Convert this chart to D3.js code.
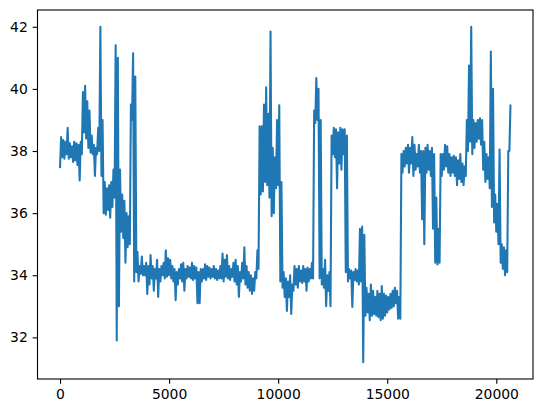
<!DOCTYPE html>
<html>
<head>
<meta charset="utf-8">
<script src="https://cdn.jsdelivr.net/npm/d3@7"></script>
<style>
  body { margin: 0; background: #fff; }
  .tick text { font-family: "DejaVu Sans", sans-serif; font-size: 13.9px; fill: #000; }
  .tick line { stroke: #000; stroke-width: 1.1px; }
  .series { fill: none; stroke: #1f77b4; stroke-width: 2.08px; stroke-linejoin: round; }
  .frame { fill: none; stroke: #000; stroke-width: 1.1px; }
</style>
</head>
<body>
<div class="content"></div>
<script>
var svgWidth = 543;  // The width of the SVG element.
var svgHeight = 413;  // The height of the SVG element.

// Each bin covers binSize samples; lowValues / highValues are the min and max.
var binSize = 100;
var lowValues = [
  37.45, 37.8, 37.75, 37.9, 37.75, 37.8, 37.65, 37.7, 37.55, 37.05,
  37.9, 38.6, 38.4, 38.1, 37.95, 37.9, 37.2, 37.9, 38.0, 37.2,
  36.0, 35.95, 36.1, 35.85, 36.2, 36.5, 31.9, 33.0, 35.4, 35.2,
  34.4, 34.9, 35.0, 39.0, 33.8, 34.1, 33.8, 34.05, 34.0, 34.0,
  33.4, 33.7, 33.9, 33.5, 33.9, 33.3, 33.8, 34.0, 33.9, 33.95,
  34.0, 33.9, 33.8, 33.2, 33.7, 33.9, 33.8, 33.5, 33.9, 33.95,
  33.9, 33.85, 33.9, 33.1, 33.1, 33.8, 33.9, 33.85, 33.95, 33.9,
  33.95, 33.9, 33.85, 33.9, 33.9, 33.8, 33.95, 33.9, 33.85, 33.95,
  33.8, 33.7, 33.3, 33.8, 33.9, 33.7, 33.6, 33.5, 33.4, 33.5,
  33.9, 34.2, 36.6, 36.7, 37.0, 36.9, 36.5, 35.9, 36.0, 36.8,
  36.9, 33.8, 33.6, 33.3, 32.85, 33.3, 32.75, 33.5, 33.7, 33.6,
  33.8, 33.75, 33.8, 33.5, 33.8, 33.9, 33.9, 38.9, 39.0, 33.9,
  33.7, 33.6, 33.0, 33.5, 33.0, 37.9, 37.8, 36.8, 37.6, 37.4,
  37.9, 34.1, 33.8, 33.9, 32.98, 33.85, 33.8, 33.7, 33.8, 31.2,
  32.7, 32.8, 32.55, 32.7, 32.75, 32.7, 32.65, 32.55, 32.6, 32.7,
  32.8, 32.9, 32.95, 33.0, 33.1, 32.6, 32.6, 37.3, 37.5, 37.6,
  37.3, 37.6, 37.2, 37.4, 37.5, 37.3, 35.8, 35.0, 37.3, 37.4,
  37.2, 35.5, 34.4, 34.35, 34.4, 37.2, 37.4, 37.5, 37.3, 37.2,
  37.3, 37.2, 36.9, 37.1, 37.0, 36.9, 37.2, 38.0, 38.3, 37.9,
  38.1, 38.3, 38.4, 38.2, 37.4, 37.0, 37.1, 36.8, 36.2, 35.7,
  35.4, 35.0, 34.4, 34.2, 34.0, 34.1, 38.0
];
var highValues = [
  38.45, 38.35, 38.3, 38.75, 38.25, 38.15, 38.3, 38.25, 38.2, 38.3,
  39.9, 40.1, 39.6, 39.3, 38.5, 38.2, 38.1, 38.75, 42.0, 39.0,
  37.0, 36.8, 36.9, 37.0, 37.4, 41.4, 41.0, 37.4, 36.6, 36.4,
  36.0, 35.9, 39.5, 41.15, 40.4, 34.75, 34.3, 34.6, 34.3, 34.4,
  34.3, 34.65, 34.3, 34.2, 34.5, 34.2, 34.3, 34.4, 34.8, 34.55,
  34.5, 34.3, 34.2, 34.1, 34.2, 34.35, 34.4, 34.2, 34.3, 34.25,
  34.4, 34.3, 34.25, 34.1, 34.2, 34.2, 34.35, 34.3, 34.25, 34.2,
  34.3, 34.2, 34.15, 34.3, 34.7, 34.5, 34.65, 34.3, 34.2, 34.4,
  34.5, 34.3, 34.1, 34.4, 34.9, 34.3, 34.1, 34.0, 33.9, 34.1,
  34.8, 38.8, 38.8, 39.5, 40.05, 39.2, 41.85, 38.1, 37.8, 39.0,
  39.47, 37.0, 34.1, 33.9, 33.8, 34.0, 33.7, 34.3, 34.2, 34.3,
  34.15, 34.3, 34.2, 34.25, 34.2, 34.4, 39.3, 40.35, 40.0, 39.0,
  34.2, 34.5, 34.0, 34.1, 38.5, 38.75, 38.7, 38.6, 38.75, 38.7,
  38.7, 38.5, 34.2, 34.15, 34.1, 34.2, 34.15, 35.5, 35.57, 35.3,
  33.6, 33.4, 33.7, 33.5, 33.3, 33.5, 33.4, 33.65, 33.4, 33.35,
  33.3, 33.4, 33.5, 33.6, 33.5, 33.3, 37.9, 38.0, 38.1, 38.2,
  38.1, 38.45, 38.2, 37.9, 38.2, 38.0, 38.0, 38.1, 38.2, 38.0,
  38.1, 37.9, 36.5, 35.5, 37.9, 37.9, 38.2, 38.15, 37.9, 37.8,
  37.85, 37.8, 37.7, 37.9, 37.6, 37.5, 39.0, 40.75, 42.0, 39.0,
  38.9, 39.0, 39.05, 39.0, 38.3, 37.9, 37.8, 41.2, 40.0, 36.6,
  36.3, 38.05, 35.0, 34.9, 34.8, 38.0, 39.5
];

var xTicks = [0, 5000, 10000, 15000, 20000];
var yTicks = [32, 34, 36, 38, 40, 42];

// Build the point list: low at the start of each bin, high at its middle.
var points = [];
lowValues.forEach(function(lo, i) {
	points.push({"x" : i * binSize, "y" : lo});
	points.push({"x" : i * binSize + binSize / 2, "y" : highValues[i]});
});

var plot = {"left" : 37.5, "right" : 533, "top" : 10, "bottom" : 379};

// Matplotlib style 5% margins around the data.
var xExtent = d3.extent(points, function(d) { return d.x; });
var yExtent = d3.extent(points, function(d) { return d.y; });
var xPad = (xExtent[1] - xExtent[0]) * 0.05;
var yPad = (yExtent[1] - yExtent[0]) * 0.05;

var x = d3.scaleLinear()
	.domain([xExtent[0] - xPad, xExtent[1] + xPad])
	.range([plot.left, plot.right]);
var y = d3.scaleLinear()
	.domain([yExtent[0] - yPad, yExtent[1] + yPad])
	.range([plot.bottom, plot.top]);

var svg = d3.select(".content")
	.append("svg")
	.attr("width", svgWidth)
	.attr("height", svgHeight);

svg.append("clipPath")
	.attr("id", "plot-clip")
	.append("rect")
	.attr("x", plot.left)
	.attr("y", plot.top)
	.attr("width", plot.right - plot.left)
	.attr("height", plot.bottom - plot.top);

// The data line.
svg.append("path")
	.datum(points)
	.classed("series", true)
	.attr("clip-path", "url(#plot-clip)")
	.attr("d", d3.line()
		.x(function(d) { return x(d.x); })
		.y(function(d) { return y(d.y); }));

// Axes, with the domain lines removed (the frame draws the spines).
var xAxis = svg.append("g")
	.attr("transform", "translate(0," + plot.bottom + ")")
	.call(d3.axisBottom(x).tickValues(xTicks).tickFormat(d3.format("d"))
		.tickSizeInner(4.86).tickSizeOuter(0).tickPadding(4.86));
xAxis.select(".domain").remove();

var yAxis = svg.append("g")
	.attr("transform", "translate(" + plot.left + ",0)")
	.call(d3.axisLeft(y).tickValues(yTicks).tickFormat(d3.format("d"))
		.tickSizeInner(4.86).tickSizeOuter(0).tickPadding(4.86));
yAxis.select(".domain").remove();

svg.selectAll(".tick text").attr("font-family", null).attr("font-size", null);

svg.append("rect")
	.classed("frame", true)
	.attr("x", plot.left)
	.attr("y", plot.top)
	.attr("width", plot.right - plot.left)
	.attr("height", plot.bottom - plot.top);
</script>
</body>
</html>
